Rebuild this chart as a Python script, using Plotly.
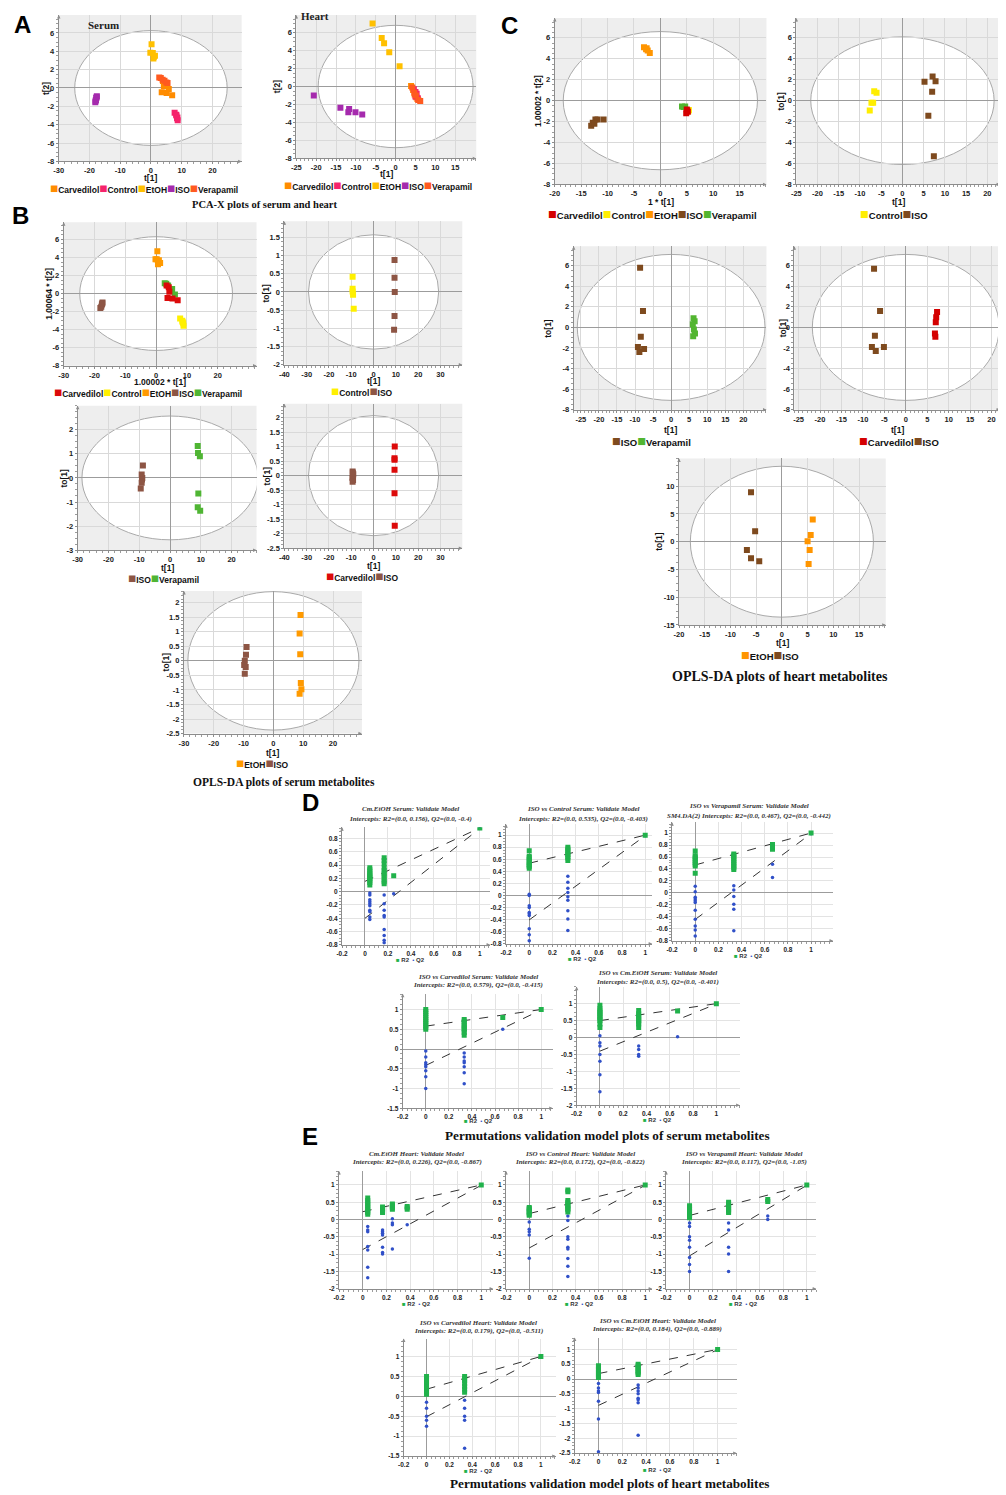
import plotly.graph_objects as go

W, H = 1006, 1495
PAGE_OFFSET = 8  # default body margin of the html page

# ------------------------------------------------------------------ data
GROUPS = ["Carvedilol", "Control", "EtOH", "ISO", "Verapamil"]

# tick values (labels shown on the axes)
XT_30_20 = [-30, -20, -10, 0, 10, 20]
XT_25_15 = [-25, -20, -15, -10, -5, 0, 5, 10, 15]
XT_20_15 = [-20, -15, -10, -5, 0, 5, 10, 15]
XT_25_20 = [-25, -20, -15, -10, -5, 0, 5, 10, 15, 20]
XT_40_30 = [-40, -30, -20, -10, 0, 10, 20, 30]
YT_8_6 = [-8, -6, -4, -2, 0, 2, 4, 6]
YT_2_15 = [-2, -1.5, -1, -0.5, 0, 0.5, 1, 1.5]
YT_3_2 = [-3, -2, -1, 0, 1, 2]
YT_25_2 = [-2.5, -2, -1.5, -1, -0.5, 0, 0.5, 1, 1.5, 2]
YT_15_10 = [-15, -10, -5, 0, 5, 10]
PX_T = [-0.2, 0, 0.2, 0.4, 0.6, 0.8, 1]
PY_08_08 = [-0.8, -0.6, -0.4, -0.2, 0, 0.2, 0.4, 0.6, 0.8]
PY_08_1 = [-0.8, -0.6, -0.4, -0.2, 0, 0.2, 0.4, 0.6, 0.8, 1]
PY_15_1 = [-1.5, -1, -0.5, 0, 0.5, 1]
PY_2_1 = [-2, -1.5, -1, -0.5, 0, 0.5, 1]
PY_25_1 = [-2.5, -2, -1.5, -1, -0.5, 0, 0.5, 1]

# A1  PCA-X serum  (t[1], t[2])
a1_carvedilol = ([4.2, 3.5, 5.1, 5.8, 6.9, 3.9], [0.2, -0.45, -0.55, -0.1, -0.8, 0.75])
a1_control = ([7.7, 8.2, 8.3, 8.5, 8.6, 8.7], [-2.7, -2.9, -3.0, -3.3, -3.2, -3.5])
a1_etoh = ([0.2, -0.2, 0.6, 1.3, 0.8, 1.0], [4.75, 3.85, 3.8, 3.5, 3.2, 3.4])
a1_iso = ([-17.6, -17.7, -17.8, -17.9, -18.0, -18.1], [-0.9, -1.0, -1.1, -1.3, -1.4, -1.55])
a1_verapamil = ([2.7, 3.2, 3.8, 5.0, 5.4, 4.4], [1.15, 1.1, 0.9, 0.6, 0.55, 0.8])
a1_ellipse = (24.8, 6.25)

# A2  PCA-X heart
a2_carvedilol = ([3.9, 4.4, 4.8, 5.2, 5.5], [0.05, -0.4, -0.9, -1.2, -1.4])
a2_control = ([4.6, 5.0, 5.3, 5.0, 5.6], [-0.3, -0.6, -0.8, -1.1, -1.3])
a2_etoh = ([-5.8, -3.5, -2.9, -1.6, 1.0], [7.0, 5.4, 4.8, 3.8, 2.25])
a2_iso = ([-20.6, -13.9, -11.7, -11.9, -10.1, -8.4], [-1.0, -2.35, -2.5, -2.85, -2.85, -3.1])
a2_verapamil = ([4.2, 4.7, 5.1, 5.7, 6.2], [-0.1, -0.7, -1.0, -1.5, -1.6])
a2_ellipse = (19.5, 6.8)

# B1  OPLS-DA serum, all groups
b1_carvedilol = ([3.4, 4.1, 4.3, 3.7, 5.3, 7.0], [0.9, 0.7, 0.2, -0.5, -0.55, -0.75])
b1_control = ([7.8, 8.5, 8.8, 8.9, 8.6], [-2.75, -3.0, -3.3, -3.55, -3.15])
b1_etoh = ([0.4, -0.2, 0.9, 1.3, 0.6, 0.2], [4.7, 3.8, 3.7, 3.4, 3.25, 3.8])
b1_iso = ([-17.4, -17.6, -17.8, -18.1, -17.5], [-1.0, -1.2, -1.45, -1.6, -1.1])
b1_verapamil = ([2.8, 3.3, 3.9, 5.2, 6.1], [1.15, 1.1, 0.9, 0.5, -0.1])
b1_ellipse = (24.8, 6.3)

# B2  Control vs ISO serum (t[1], to[1])
b2_control = ([-9.4, -9.4, -9.4, -9.2, -8.9], [0.42, 0.09, 0.01, -0.08, -0.46])
b2_iso = ([9.4, 9.4, 9.5, 9.4, 9.2], [0.88, 0.39, 0.0, -0.66, -1.04])
b2_ellipse = (29.2, 1.57)

# B3  ISO vs Verapamil serum
b3_iso = ([-8.8, -9.2, -9.0, -9.1, -9.2, -9.5], [0.52, 0.14, 0.0, -0.07, -0.2, -0.44])
b3_verapamil = ([9.0, 9.1, 9.7, 9.2, 9.0, 9.8], [1.33, 1.04, 0.9, -0.65, -1.22, -1.36])
b3_ellipse = (28.6, 2.57)

# B4  Carvedilol vs ISO serum
b4_carvedilol = ([9.5, 9.4, 9.4, 9.4, 9.4, 9.5], [1.0, 0.6, 0.55, 0.2, -0.61, -1.73])
b4_iso = ([-9.4, -9.1, -9.5, -9.2, -9.4, -9.3], [0.14, 0.05, -0.07, -0.15, -0.21, 0.1])
b4_ellipse = (29.2, 2.07)

# B5  EtOH vs ISO serum
b5_etoh = ([9.1, 8.8, 9.0, 9.2, 9.4, 8.8], [1.58, 0.94, 0.23, -0.76, -0.98, -1.13])
b5_iso = ([-9.0, -9.2, -9.6, -9.8, -9.3, -9.6], [0.48, 0.21, 0.0, -0.14, -0.21, -0.44])
b5_ellipse = (28.7, 2.38)

# C1  OPLS-DA heart, all groups
c1_control = ([5.4, 5.3], [-0.9, -1.0])
c1_carvedilol = ([5.0, 4.9, 5.2, 5.1], [-0.85, -1.2, -1.05, -0.95])
c1_etoh = ([-3.1, -2.7, -2.4, -2.0, -2.6], [5.1, 4.9, 4.8, 4.55, 5.0])
c1_iso = ([-13.1, -12.8, -12.3, -11.9, -10.75, -12.5], [-2.4, -2.1, -1.8, -1.8, -1.8, -2.2])
c1_verapamil = ([4.4, 4.7, 4.1], [-0.6, -0.55, -0.55])
c1_ellipse = (18.4, 6.6)

# C2  Control vs ISO heart
c2_control = ([-6.65, -6.1, -7.3, -6.9, -7.7], [0.9, 0.75, -0.2, -0.2, -0.95])
c2_iso = ([7.1, 5.2, 7.8, 7.0, 6.1, 7.4], [2.3, 1.8, 1.85, 0.85, -1.45, -5.3])
c2_ellipse = (21.6, 6.1)

# C3  ISO vs Verapamil heart
c3_iso = ([-8.6, -7.8, -8.4, -9.2, -7.5, -8.8], [5.8, 1.6, -0.9, -1.9, -2.1, -2.4])
c3_verapamil = ([6.2, 6.5, 6.0, 6.3, 6.6, 6.1], [0.9, 0.6, 0.3, -0.2, -0.6, -0.85])
c3_ellipse = (26.0, 7.1)

# C4  Carvedilol vs ISO heart
c4_carvedilol = ([7.3, 7.1, 7.0, 6.8, 6.9], [1.5, 1.0, 0.5, -0.6, -0.9])
c4_iso = ([-7.4, -6.0, -7.2, -7.9, -5.1, -7.0], [5.7, 1.6, -0.8, -1.9, -1.9, -2.3])
c4_ellipse = (21.8, 7.1)

# C5  EtOH vs ISO heart
c5_iso = ([-6.0, -5.2, -6.8, -6.0, -4.4], [8.9, 1.9, -1.5, -3.0, -3.5])
c5_etoh = ([6.0, 5.6, 5.0, 5.4, 5.2], [4.0, 1.2, 0.1, -1.5, -4.0])
c5_ellipse = (17.8, 13.6)

# Permutation plots: (x, y) for R2 and Q2, and intercepts
d1_r2 = ([0.042] * 11 + [0.167] * 11 + [0.25, 1.0],
         [0.10, 0.14, 0.17, 0.19, 0.21, 0.23, 0.25, 0.27, 0.30, 0.33, 0.36,
          0.12, 0.15, 0.18, 0.22, 0.25, 0.28, 0.32, 0.36, 0.42, 0.47, 0.51, 0.24, 0.96])
d1_q2 = ([0.042] * 10 + [0.167] * 9 + [0.25, 1.0],
         [-0.02, -0.05, -0.12, -0.15, -0.18, -0.21, -0.28, -0.30, -0.38, -0.42,
          -0.05, -0.18, -0.28, -0.36, -0.38, -0.57, -0.66, -0.73, -0.77, -0.03, 0.95])
d1_int = (0.156, -0.4)

d2_r2 = ([0.0] * 10 + [0.333] * 8 + [1.0],
         [0.45, 0.48, 0.50, 0.52, 0.55, 0.57, 0.60, 0.63, 0.65, 0.74,
          0.58, 0.62, 0.65, 0.68, 0.71, 0.74, 0.77, 0.80, 1.0])
d2_q2 = ([0.0] * 10 + [0.333] * 9 + [1.0],
         [0.02, 0.0, -0.17, -0.20, -0.28, -0.30, -0.33, -0.55, -0.65, -0.75,
          0.32, 0.22, 0.12, 0.05, -0.02, -0.08, -0.25, -0.39, -0.58, 0.99])
d2_int = (0.535, -0.403)

d3_r2 = ([0.0] * 9 + [0.333] * 10 + [0.667] * 4 + [1.0],
         [0.33, 0.45, 0.48, 0.51, 0.54, 0.57, 0.60, 0.62, 0.70,
          0.39, 0.42, 0.45, 0.48, 0.51, 0.54, 0.57, 0.60, 0.63, 0.65,
          0.73, 0.76, 0.79, 0.81, 1.0])
d3_q2 = ([0.0] * 11 + [0.333] * 6 + [0.667] * 2 + [1.0],
         [0.11, 0.02, -0.07, -0.10, -0.13, -0.16, -0.29, -0.44, -0.55, -0.62, -0.72,
          0.12, 0.05, -0.06, -0.19, -0.27, -0.63, 0.48, 0.26, 0.99])
d3_int = (0.467, -0.442)

d4_r2 = ([0.0] * 11 + [0.333] * 9 + [0.667, 1.0],
         [0.50, 0.55, 0.60, 0.65, 0.70, 0.75, 0.80, 0.85, 0.90, 0.95, 1.0,
          0.35, 0.42, 0.48, 0.52, 0.56, 0.60, 0.65, 0.70, 0.75, 0.80, 1.0])
d4_q2 = ([0.0] * 8 + [0.333] * 7 + [0.667, 1.0],
         [-0.05, -0.20, -0.35, -0.40, -0.45, -0.55, -0.70, -1.0,
          -0.10, -0.20, -0.30, -0.35, -0.45, -0.60, -0.88, 0.50, 0.99])
d4_int = (0.579, -0.415)

d5_r2 = ([0.0] * 11 + [0.333] * 9 + [0.667, 1.0],
         [0.30, 0.40, 0.50, 0.55, 0.60, 0.65, 0.70, 0.75, 0.80, 0.85, 0.95,
          0.30, 0.40, 0.45, 0.50, 0.55, 0.60, 0.65, 0.70, 0.80, 0.78, 1.0])
d5_q2 = ([0.0] * 7 + [0.333] * 4 + [0.667, 1.0],
         [0.05, -0.15, -0.25, -0.50, -0.70, -1.10, -1.60,
          -0.25, -0.35, -0.50, -0.55, 0.02, 0.99])
d5_int = (0.5, -0.401)

e1_r2 = ([0.042] * 10 + [0.167] * 5 + [0.25] * 5 + [0.375] * 3 + [1.0],
         [0.15, 0.20, 0.25, 0.30, 0.35, 0.40, 0.45, 0.50, 0.55, 0.62,
          0.20, 0.24, 0.28, 0.32, 0.36, 0.30, 0.34, 0.38, 0.42, 0.45,
          0.30, 0.34, 0.38, 1.0])
e1_q2 = ([0.042] * 7 + [0.167] * 7 + [0.25] * 4 + [0.375, 1.0],
         [-0.20, -0.30, -0.35, -0.78, -0.88, -1.38, -1.68,
          -0.30, -0.35, -0.40, -0.45, -0.80, -0.95, -1.00,
          0.02, -0.10, -0.15, -0.85, -0.15, 0.99])
e1_int = (0.226, -0.867)

e2_r2 = ([0.0] * 7 + [0.333] * 10 + [1.0],
         [0.12, 0.16, 0.20, 0.24, 0.28, 0.32, 0.35,
          0.22, 0.28, 0.32, 0.36, 0.40, 0.45, 0.50, 0.55, 0.80, 0.85, 1.0])
e2_q2 = ([0.0] * 5 + [0.333] * 11 + [1.0],
         [-0.07, -0.28, -0.35, -0.45, -1.12,
          0.30, 0.20, 0.10, -0.03, -0.50, -0.57, -0.80, -0.85, -1.13, -1.35, -1.65, 0.99])
e2_int = (0.172, -0.822)

e3_r2 = ([0.0] * 8 + [0.333] * 7 + [0.667] * 2 + [1.0],
         [0.05, 0.10, 0.15, 0.20, 0.25, 0.30, 0.35, 0.40,
          0.20, 0.25, 0.30, 0.35, 0.40, 0.45, 0.50, 0.52, 0.58, 1.0])
e3_q2 = ([0.0] * 8 + [0.333] * 5 + [0.667] * 2 + [1.0],
         [-0.10, -0.20, -0.50, -0.60, -0.80, -1.10, -1.30, -1.50,
          -0.10, -0.30, -0.80, -1.00, -1.50, 0.10, 0.0, 0.99])
e3_int = (0.117, -1.05)

e4_r2 = ([0.0] * 8 + [0.333] * 7 + [1.0],
         [0.05, 0.12, 0.18, 0.24, 0.30, 0.36, 0.42, 0.50,
          0.10, 0.18, 0.25, 0.32, 0.40, 0.45, 0.50, 1.0])
e4_q2 = ([0.0] * 5 + [0.333] * 5 + [1.0],
         [-0.15, -0.30, -0.50, -0.60, -0.75, -0.10, -0.30, -0.50, -0.60, -1.30, 0.99])
e4_int = (0.179, -0.511)

e5_r2 = ([0.0] * 9 + [0.333] * 8 + [1.0],
         [0.05, 0.10, 0.15, 0.20, 0.25, 0.30, 0.35, 0.40, 0.45,
          0.15, 0.20, 0.25, 0.30, 0.35, 0.40, 0.45, 0.50, 1.0])
e5_q2 = ([0.0] * 7 + [0.333] * 8 + [1.0],
         [-0.15, -0.30, -0.40, -0.45, -0.75, -1.35, -2.45,
          -0.20, -0.30, -0.40, -0.50, -0.65, -0.70, -0.80, -1.90, 0.99])
e5_int = (0.184, -0.889)

# ------------------------------------------------------------------ styles
COL_A = {"Carvedilol": "#ff8c00", "Control": "#f5236b", "EtOH": "#ffc000",
         "ISO": "#a52aad", "Verapamil": "#ff5a1f"}
COL_B = {"Carvedilol": "#dc0a0a", "Control": "#fff000", "EtOH": "#ff9a00",
         "ISO": "#8d5544", "Verapamil": "#4fb533"}
COL_C = {"Carvedilol": "#d40000", "Control": "#ffee00", "EtOH": "#ff9500",
         "ISO": "#7e4a1e", "Verapamil": "#52b530"}
R2_COL = "#21b24b"
Q2_COL = "#3050c8"

SANS = "Arial, Liberation Sans, sans-serif"
SERIF = "Times New Roman, Liberation Serif, serif"


def fx(px):
    return (px - PAGE_OFFSET) / W


def fy(py):
    return 1 - (py - PAGE_OFFSET) / H


def lab(v):
    return f"{v:g}"


fig = go.Figure()
layout = dict(width=W, height=H, autosize=False, margin=dict(l=0, r=0, t=0, b=0),
              paper_bgcolor="white", plot_bgcolor="white", showlegend=False)
shapes = []
annotations = []
counter = [0]


def text(x, y, s, size, family=SANS, color="#111", angle=0, xanchor="center", yanchor="middle"):
    annotations.append(dict(x=fx(x), y=fy(y), xref="paper", yref="paper", text=s, showarrow=False,
                            font=dict(family=family, size=size, color=color), textangle=angle,
                            xanchor=xanchor, yanchor=yanchor))


def make_axes(box, xr, yr, xt, yt, tsize, grid):
    counter[0] += 1
    i = counter[0]
    l, t, r, b = box
    xs = "x" if i == 1 else f"x{i}"
    ys = "y" if i == 1 else f"y{i}"
    tf = dict(family=SANS, size=tsize, color="#222", weight="bold")
    common = dict(showgrid=True, gridcolor=grid, gridwidth=1, zeroline=True,
                  zerolinecolor="#9c9c9c", zerolinewidth=1, showline=True,
                  linecolor="#8c8c8c", linewidth=1, ticks="outside", ticklen=2,
                  tickcolor="#8c8c8c", tickfont=tf, fixedrange=True, tickmode="array")
    xstep = xt[1] - xt[0]
    ystep = yt[1] - yt[0]
    layout["xaxis" if i == 1 else f"xaxis{i}"] = dict(
        domain=[fx(l), fx(r)], range=xr, tickvals=xt, ticktext=[lab(v) for v in xt], anchor=ys,
        minor=dict(ticks="outside", ticklen=2, tickcolor="#9c9c9c", showgrid=False,
                   dtick=xstep / 5, tick0=xt[0]), **common)
    layout["yaxis" if i == 1 else f"yaxis{i}"] = dict(
        domain=[fy(b), fy(t)], range=yr, tickvals=yt, ticktext=[lab(v) for v in yt], anchor=xs,
        minor=dict(ticks="outside", ticklen=2, tickcolor="#9c9c9c", showgrid=False,
                   dtick=ystep / 4, tick0=yt[0]), **common)
    # axis arrows
    annotations.append(dict(x=1, y=0, xref=f"{xs} domain", yref=f"{ys} domain", ax=-5, ay=0,
                            text="", showarrow=True, arrowhead=2, arrowsize=0.7, arrowwidth=1,
                            arrowcolor="#8c8c8c"))
    annotations.append(dict(x=0, y=1, xref=f"{xs} domain", yref=f"{ys} domain", ax=0, ay=5,
                            text="", showarrow=True, arrowhead=2, arrowsize=0.7, arrowwidth=1,
                            arrowcolor="#8c8c8c"))
    return xs, ys


def legend_html(items, colors, size):
    parts = []
    for name in items:
        parts.append(f'<span style="color:{colors[name]};font-size:{size + 5}px">■</span><b>{name}</b>')
    return "".join(parts)


def score_panel(box, xr, yr, xt, yt, ellipse, groups, colors, xtitle, ytitle, xt_y, yt_x, leg_y, leg_cx,
                order, leg_size=8.5):
    xs, ys = make_axes(box, xr, yr, xt, yt, 7.5, "#d9d9d9")
    shapes.append(dict(type="rect", xref=f"{xs} domain", yref=f"{ys} domain", x0=0, x1=1, y0=0, y1=1,
                       fillcolor="#eeeeee", line=dict(width=0), layer="below"))
    a, b = ellipse
    shapes.append(dict(type="circle", xref=xs, yref=ys, x0=-a, x1=a, y0=-b, y1=b,
                       fillcolor="white", line=dict(color="#a9a9a9", width=1), layer="below"))
    for name, (gx, gy) in groups:
        fig.add_trace(go.Scatter(x=gx, y=gy, mode="markers", name=name, xaxis=xs, yaxis=ys,
                                 marker=dict(symbol="square", size=6, color=colors[name],
                                             line=dict(width=0))))
    l, t, r, bb = box
    text((l + r) / 2, xt_y, f"<b>{xtitle}</b>", 8.5)
    text(yt_x, (t + bb) / 2, f"<b>{ytitle}</b>", 8.5, angle=-90)
    text(leg_cx, leg_y, legend_html(order, colors, leg_size), leg_size)


def perm_panel(box, xr, yr, yt, r2, q2, inter, title1, title2, t_y1, t_y2, t_cx, leg_y):
    xs, ys = make_axes(box, xr, yr, PX_T, yt, 6.5, "#e3e3e3")
    fig.add_trace(go.Scatter(x=[0, r2[0][-1]], y=[inter[0], r2[1][-1]], mode="lines", xaxis=xs, yaxis=ys,
                             line=dict(color="#333", width=1, dash="dash")))
    fig.add_trace(go.Scatter(x=[0, q2[0][-1]], y=[inter[1], q2[1][-1]], mode="lines", xaxis=xs, yaxis=ys,
                             line=dict(color="#333", width=1, dash="dash")))
    fig.add_trace(go.Scatter(x=q2[0], y=q2[1], mode="markers", name="Q2", xaxis=xs, yaxis=ys,
                             marker=dict(symbol="circle", size=3.5, color=Q2_COL, line=dict(width=0))))
    fig.add_trace(go.Scatter(x=r2[0], y=r2[1], mode="markers", name="R2", xaxis=xs, yaxis=ys,
                             marker=dict(symbol="square", size=5, color=R2_COL, line=dict(width=0))))
    text(t_cx, t_y1, f"<b><i>{title1}</i></b>", 7, family=SERIF, color="#333")
    text(t_cx, t_y2, f"<b><i>{title2}</i></b>", 7, family=SERIF, color="#333")
    text(t_cx, leg_y, f'<span style="color:{R2_COL}">■</span> <b>R2</b>  '
                      f'<span style="color:{Q2_COL}">•</span> <b>Q2</b>', 6, color="#333")


# ------------------------------------------------------------------ A
score_panel((53, 15, 237, 162), [-30, 29.5], [-8, 7.95], XT_30_20, YT_8_6, a1_ellipse,
            [("Carvedilol", a1_carvedilol), ("Control", a1_control), ("EtOH", a1_etoh),
             ("ISO", a1_iso), ("Verapamil", a1_verapamil)],
            COL_A, "t[1]", "t[2]", 179, 40, 189, 139, GROUPS)
score_panel((292, 15, 473, 159), [-25, 20.3], [-8, 7.95], XT_25_15, YT_8_6, a2_ellipse,
            [("Carvedilol", a2_carvedilol), ("Control", a2_control), ("EtOH", a2_etoh),
             ("ISO", a2_iso), ("Verapamil", a2_verapamil)],
            COL_A, "t[1]", "t[2]", 175, 272, 186, 374, GROUPS)
text(98, 25, "<b>Serum</b>", 11, family=SERIF, color="#222")
text(311, 16, "<b>Heart</b>", 11, family=SERIF, color="#222")
text(260, 205, "<b>PCA-X plots of serum and heart</b>", 10.5, family=SERIF)

# ------------------------------------------------------------------ B
score_panel((58, 223, 252, 367), [-30, 32.6], [-8, 7.9], XT_30_20, YT_8_6, b1_ellipse,
            [("EtOH", b1_etoh), ("ISO", b1_iso), ("Control", b1_control),
             ("Verapamil", b1_verapamil), ("Carvedilol", b1_carvedilol)],
            COL_B, "1.00002 * t[1]", "1.00064 * t[2]", 383, 43, 394, 143, GROUPS)
score_panel((280, 222, 459, 366), [-40, 39.8], [-2, 1.94], XT_40_30, YT_2_15, b2_ellipse,
            [("Control", b2_control), ("ISO", b2_iso)],
            COL_B, "t[1]", "to[1]", 382, 262, 393, 358, ["Control", "ISO"])
score_panel((72, 407, 252, 552), [-30, 28.1], [-3, 3.0], XT_30_20, YT_3_2, b3_ellipse,
            [("ISO", b3_iso), ("Verapamil", b3_verapamil)],
            COL_B, "t[1]", "to[1]", 570, 58, 580, 158, ["ISO", "Verapamil"])
score_panel((280, 405, 459, 550), [-40, 39.8], [-2.5, 2.48], XT_40_30, YT_25_2, b4_ellipse,
            [("ISO", b4_iso), ("Carvedilol", b4_carvedilol)],
            COL_B, "t[1]", "to[1]", 568, 262, 578, 358, ["Carvedilol", "ISO"])
score_panel((179, 593, 358, 736), [-30, 29.7], [-2.5, 2.4], XT_30_20, YT_25_2, b5_ellipse,
            [("ISO", b5_iso), ("EtOH", b5_etoh)],
            COL_B, "t[1]", "to[1]", 756, 161, 766, 258, ["EtOH", "ISO"])
text(280, 785, "<b>OPLS-DA plots of serum metabolites</b>", 11.5, family=SERIF)

# ------------------------------------------------------------------ C
score_panel((552, 18, 765, 185), [-20, 20.1], [-8, 7.9], XT_20_15, YT_8_6, c1_ellipse,
            [("Control", c1_control), ("EtOH", c1_etoh), ("ISO", c1_iso),
             ("Verapamil", c1_verapamil), ("Carvedilol", c1_carvedilol)],
            COL_C, "1 * t[1]", "1.00002 * t[2]", 203, 535, 215, 650, GROUPS, 9.5)
score_panel((795, 18, 1000, 185), [-25, 23], [-8, 7.9], XT_25_20, YT_8_6, c2_ellipse,
            [("Control", c2_control), ("ISO", c2_iso)],
            COL_C, "t[1]", "to[1]", 203, 780, 215, 893, ["Control", "ISO"], 9.5)
score_panel((571, 247, 765, 411), [-27, 26.4], [-8, 7.9], XT_25_20, YT_8_6, c3_ellipse,
            [("ISO", c3_iso), ("Verapamil", c3_verapamil)],
            COL_C, "t[1]", "to[1]", 431, 545, 442, 649, ["ISO", "Verapamil"], 9.5)
score_panel((793, 247, 1000, 411), [-26, 22], [-8, 7.9], XT_25_20, YT_8_6, c4_ellipse,
            [("ISO", c4_iso), ("Carvedilol", c4_carvedilol)],
            COL_C, "t[1]", "to[1]", 431, 782, 442, 898, ["Carvedilol", "ISO"], 9.5)
score_panel((677, 460, 885, 627), [-20, 20.2], [-15, 15], XT_20_15, YT_15_10, c5_ellipse,
            [("ISO", c5_iso), ("EtOH", c5_etoh)],
            COL_C, "t[1]", "to[1]", 645, 657, 657, 769, ["EtOH", "ISO"], 9.5)
text(779, 679, "<b>OPLS-DA plots of heart metabolites</b>", 14, family=SERIF)

# ------------------------------------------------------------------ D
perm_panel((338, 830, 487, 948), [-0.2, 1.09], [-0.8, 0.97], PY_08_08, d1_r2, d1_q2, d1_int,
           "Cm.EtOH Serum: Validate Model", "Intercepts: R2=(0.0, 0.156), Q2=(0.0, -0.4)",
           812, 822, 407, 963)
perm_panel((503, 827, 650, 947), [-0.2, 1.06], [-0.8, 1.18], PY_08_1, d2_r2, d2_q2, d2_int,
           "ISO vs Control Serum: Validate Model", "Intercepts: R2=(0.0, 0.535), Q2=(0.0, -0.403)",
           812, 822, 580, 962)
perm_panel((670, 825, 832, 944), [-0.2, 1.19], [-0.8, 1.18], PY_08_1, d3_r2, d3_q2, d3_int,
           "ISO vs Verapamil Serum: Validate Model",
           "SM4.DA(2) Intercepts: R2=(0.0, 0.467), Q2=(0.0, -0.442)",
           809, 819, 747, 959)
perm_panel((399, 997, 550, 1112), [-0.2, 1.1], [-1.5, 1.4], PY_15_1, d4_r2, d4_q2, d4_int,
           "ISO vs Carvedilol Serum: Validate Model", "Intercepts: R2=(0.0, 0.579), Q2=(0.0, -0.415)",
           980, 988, 475, 1125)
perm_panel((574, 990, 738, 1109), [-0.2, 1.2], [-2, 1.5], PY_2_1, d5_r2, d5_q2, d5_int,
           "ISO vs Cm.EtOH Serum: Validate Model", "Intercepts: R2=(0.0, 0.5), Q2=(0.0, -0.401)",
           976, 985, 655, 1124)
text(605, 1139, "<b>Permutations validation model plots of serum metabolites</b>", 13.2, family=SERIF)

# ------------------------------------------------------------------ E
perm_panel((335, 1175, 490, 1293), [-0.2, 1.1], [-2, 1.4], PY_2_1, e1_r2, e1_q2, e1_int,
           "Cm.EtOH Heart: Validate Model", "Intercepts: R2=(0.0, 0.226), Q2=(0.0, -0.867)",
           1158, 1166, 413, 1308)
perm_panel((503, 1175, 650, 1293), [-0.2, 1.06], [-2, 1.4], PY_2_1, e2_r2, e2_q2, e2_int,
           "ISO vs Control Heart: Validate Model", "Intercepts: R2=(0.0, 0.172), Q2=(0.0, -0.822)",
           1158, 1166, 577, 1308)
perm_panel((664, 1175, 815, 1293), [-0.2, 1.08], [-2, 1.4], PY_2_1, e3_r2, e3_q2, e3_int,
           "ISO vs Verapamil Heart: Validate Model", "Intercepts: R2=(0.0, 0.117), Q2=(0.0, -1.05)",
           1158, 1166, 742, 1308)
perm_panel((400, 1343, 553, 1461), [-0.2, 1.13], [-1.5, 1.45], PY_15_1, e4_r2, e4_q2, e4_int,
           "ISO vs Carvedilol Heart: Validate Model", "Intercepts: R2=(0.0, 0.179), Q2=(0.0, -0.511)",
           1327, 1335, 475, 1476)
perm_panel((572, 1342, 735, 1458), [-0.2, 1.16], [-2.5, 1.4], PY_25_1, e5_r2, e5_q2, e5_int,
           "ISO vs Cm.EtOH Heart: Validate Model", "Intercepts: R2=(0.0, 0.184), Q2=(0.0, -0.889)",
           1325, 1333, 655, 1475)
text(607, 1488, "<b>Permutations validation model plots of heart metabolites</b>", 13.2, family=SERIF)

# ------------------------------------------------------------------ panel letters
for letter, px, py in [("A", 17, 25), ("B", 15, 216), ("C", 506, 26), ("D", 306, 805), ("E", 306, 1140)]:
    text(px, py, f"<b>{letter}</b>", 24, color="#000")

layout["shapes"] = shapes
layout["annotations"] = annotations
fig.update_layout(**layout)
fig.write_html("out.html")
